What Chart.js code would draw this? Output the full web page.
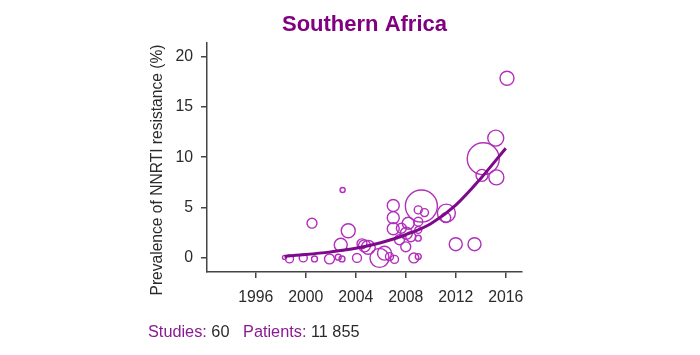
<!DOCTYPE html>
<html>
<head>
<meta charset="utf-8">
<script src="https://cdn.jsdelivr.net/npm/chart.js@4.4.1/dist/chart.umd.min.js"></script>
<style>
  html, body { margin: 0; padding: 0; background: #ffffff; }
  #wrap { position: relative; width: 700px; height: 355px; overflow: hidden; }
  #c { position: absolute; left: 0; top: 0; }
  #foot { position: absolute; left: 148px; top: 321px; line-height: 20px; font-family: "Liberation Sans", Arial, sans-serif; font-size: 16.3px; color: #2b2b2b; white-space: pre; }
  #foot .lab { color: #8a1a92; }
</style>
</head>
<body>
<div id="wrap">
  <canvas id="c" width="700" height="355"></canvas>
  <div id="foot"><span class="lab">Studies:</span> 60   <span class="lab">Patients:</span> 11 855</div>
</div>
<script>
// ---- data ----
const studyYears = [1998.3, 1998.7, 1999.8, 2000.7, 2000.5, 2001.9, 2002.6, 2002.9, 2002.8, 2002.95,
  2003.4, 2004.1, 2004.7, 2005.0, 2004.5, 2005.9, 2006.3, 2006.7, 2007.1, 2007.0,
  2007.0, 2007.0, 2007.65, 2008.2, 2008.05, 2008.4, 2007.5, 2008.0, 2008.65, 2009.0,
  2009.0, 2009.5, 2009.0, 2009.0, 2009.0, 2009.25, 2011.25, 2011.2, 2012.0, 2013.5,
  2014.2, 2014.1, 2015.25, 2015.2, 2016.1];
const studyPrevalence = [0.05, -0.1, 0.0, -0.1, 3.45, -0.1, 0.07, -0.1, 1.3, 6.75,
  2.7, 0.0, 1.2, 1.05, 1.4, 0.0, 0.47, 0.13, -0.15, 5.2,
  4.0, 2.9, 2.95, 3.45, 2.45, 2.1, 1.8, 1.1, 0.0, 0.13,
  4.77, 4.5, 3.6, 2.78, 1.96, 5.15, 4.45, 4.0, 1.36, 1.36,
  9.85, 8.2, 8.0, 11.9, 17.85];
const studyPatients = [25, 100, 100, 55, 155, 155, 55, 55, 265, 40,
  305, 125, 225, 305, 155, 565, 305, 100, 100, 225,
  225, 225, 155, 225, 225, 155, 155, 155, 155, 55,
  100, 100, 125, 75, 55, 1600, 505, 155, 265, 265,
  1600, 225, 350, 400, 305];
const curveYears = [1998.3, 2000, 2002, 2004, 2006, 2008, 2010, 2012, 2014, 2016];
const curvePrevalence = [0.15, 0.33, 0.6, 0.95, 1.5, 2.3, 3.4, 5.25, 7.9, 10.9];
const xTickValues = [1996, 2000, 2004, 2008, 2012, 2016];
const yTickValues = [0, 5, 10, 15, 20];
const titleText = 'Southern Africa';
const yTitleText = 'Prevalence of NNRTI resistance (%)';

const FONT = '"Liberation Sans", Arial, sans-serif';
const bubbleData = studyYears.map((y, i) => ({ x: y, y: studyPrevalence[i], r: 0.4 * Math.sqrt(studyPatients[i]) }));
const curveData = curveYears.map((y, i) => ({ x: y, y: curvePrevalence[i] }));

const yTitlePlugin = {
  id: 'yTitle',
  afterDraw(chart) {
    const ctx = chart.ctx;
    ctx.save();
    ctx.translate(158, 170);
    ctx.rotate(-Math.PI / 2);
    ctx.font = '15.6px ' + FONT;
    ctx.fillStyle = '#2b2b2b';
    ctx.textAlign = 'center';
    ctx.textBaseline = 'middle';
    ctx.fillText(yTitleText, 0, 0);
    ctx.restore();
  }
};

new Chart(document.getElementById('c'), {
  type: 'bubble',
  data: {
    datasets: [
      {
        type: 'line',
        data: curveData,
        borderColor: '#7c0a8b',
        borderWidth: 3,
        pointRadius: 0,
        fill: false,
        tension: 0.4,
        cubicInterpolationMode: 'monotone'
      },
      {
        type: 'bubble',
        data: bubbleData,
        backgroundColor: 'rgba(0,0,0,0)',
        borderColor: '#b12fba',
        borderWidth: 1.4,
        clip: false
      }
    ]
  },
  options: {
    responsive: false,
    animation: false,
    events: [],
    layout: { padding: { left: 140, right: 178, top: 0, bottom: 43 } },
    plugins: {
      legend: { display: false },
      tooltip: { enabled: false },
      title: {
        display: true,
        text: titleText,
        fullSize: false,
        color: '#800080',
        font: { family: FONT, size: 22, weight: 'bold' },
        padding: { top: 12, bottom: 4.6 }
      }
    },
    scales: {
      x: {
        type: 'linear',
        min: 1992.1,
        max: 2017.3,
        afterBuildTicks: (s) => { s.ticks = xTickValues.map(v => ({ value: v })); },
        afterFit: (s) => { s.height = 40; },
        ticks: {
          color: '#2b2b2b',
          font: { family: FONT, size: 15.8 },
          padding: 10,
          maxRotation: 0,
          autoSkip: false,
          callback: (v) => String(v)
        },
        grid: { display: true, drawOnChartArea: false, drawTicks: true, tickLength: 6, color: '#444', lineWidth: 1.5 },
        border: { display: true, color: '#444', width: 1.5 }
      },
      y: {
        type: 'linear',
        min: -1.4,
        max: 21.35,
        afterBuildTicks: (s) => { s.ticks = yTickValues.map(v => ({ value: v })); },
        afterFit: (s) => { s.width = 67; },
        ticks: {
          color: '#2b2b2b',
          font: { family: FONT, size: 15.8 },
          padding: 8,
          callback: (v) => String(v)
        },
        grid: { display: true, drawOnChartArea: false, drawTicks: true, tickLength: 6, color: '#444', lineWidth: 1.5 },
        border: { display: true, color: '#444', width: 1.5 }
      }
    }
  },
  plugins: [yTitlePlugin]
});
</script>
</body>
</html>
